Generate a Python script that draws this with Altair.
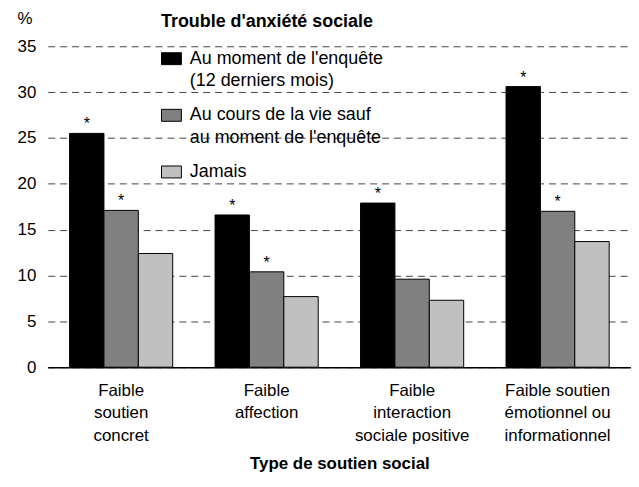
import altair as alt
import pandas as pd

categories = ["Faible\nsoutien\nconcret", "Faible\naffection",
              "Faible\ninteraction\nsociale positive",
              "Faible soutien\némotionnel ou\ninformationnel"]
series = ["Au moment de l'enquête\n(12 derniers mois)",
          "Au cours de la vie sauf\nau moment de l'enquête",
          "Jamais"]
vals_current = [25.5, 16.6, 17.9, 30.6]
vals_lifetime = [17.1, 10.4, 9.6, 17.0]
vals_never = [12.4, 7.7, 7.3, 13.7]
star_current = ["*", "*", "*", "*"]
star_lifetime = ["*", "*", "", "*"]
star_never = ["", "", "", ""]
colors = ["#000000", "#808080", "#c0c0c0"]

rows = []
for s, vals, stars in zip(series, [vals_current, vals_lifetime, vals_never],
                          [star_current, star_lifetime, star_never]):
    for c, v, st in zip(categories, vals, stars):
        rows.append({"cat": c, "serie": s, "val": v, "star": st})
df = pd.DataFrame(rows)

FONT = "Liberation Sans, Arial"

x = alt.X("cat:N", sort=categories,
          scale=alt.Scale(paddingInner=0.291, paddingOuter=0.15),
          axis=alt.Axis(title="Type de soutien social", labelAngle=0,
                        labelExpr="split(datum.label, '\\n')",
                        labelLineHeight=23, labelPadding=15, ticks=False,
                        domainColor="black", domainWidth=1.5,
                        titleFontWeight="bold", titlePadding=12))
y = alt.Y("val:Q", scale=alt.Scale(domain=[0, 35], nice=False),
          axis=alt.Axis(title="%", titleAngle=0, titleX=-31, titleY=-28,
                        titleAlign="left", titleBaseline="middle",
                        titleFontWeight="normal",
                        values=[0, 5, 10, 15, 20, 25, 30, 35],
                        domain=False, ticks=False, tickSize=0, labelPadding=12,
                        grid=True, gridDash=[7, 5], gridColor="#444444",
                        gridWidth=1))

bars = alt.Chart(df).mark_bar(stroke="black", strokeWidth=1).encode(
    x=x, y=y,
    xOffset=alt.XOffset("serie:N", sort=series),
    color=alt.Color("serie:N", sort=series,
                    scale=alt.Scale(domain=series, range=colors),
                    legend=alt.Legend(title="Trouble d'anxiété sociale",
                                      orient="none", legendX=114, legendY=-33,
                                      labelExpr="split(datum.label, '\\n')",
                                      labelBaseline="middle", labelLimit=400,
                                      titleLimit=400,
                                      symbolType="M-1,-0.6H1V0.6H-1Z",
                                      symbolSize=400,
                                      symbolStrokeColor="black", symbolStrokeWidth=1,
                                      titleFontWeight="bold", titlePadding=17,
                                      titleFontSize=18,
                                      rowPadding=14, labelOffset=8)),
)

stars = alt.Chart(df).mark_text(dy=-9, fontSize=16, font=FONT, color="black").encode(
    x=alt.X("cat:N", sort=categories), y="val:Q",
    xOffset=alt.XOffset("serie:N", sort=series),
    text="star:N",
)

chart = alt.layer(bars, stars).properties(
    width=587, height=323,
    autosize=alt.AutoSizeParams(type="none"),
    padding={"left": 40, "top": 37, "right": 0, "bottom": 110},
).configure(
    style={"guide-label": {"lineHeight": 23}}
).configure_view(stroke=None).configure_axis(
    labelFont=FONT, titleFont=FONT, labelFontSize=17, titleFontSize=17,
    labelColor="black", titleColor="black",
).configure_legend(
    labelFont=FONT, titleFont=FONT, labelFontSize=18, titleFontSize=18,
    labelColor="black", titleColor="black",
)

chart.save("out.html", embed_options={"renderer": "svg", "actions": False})
